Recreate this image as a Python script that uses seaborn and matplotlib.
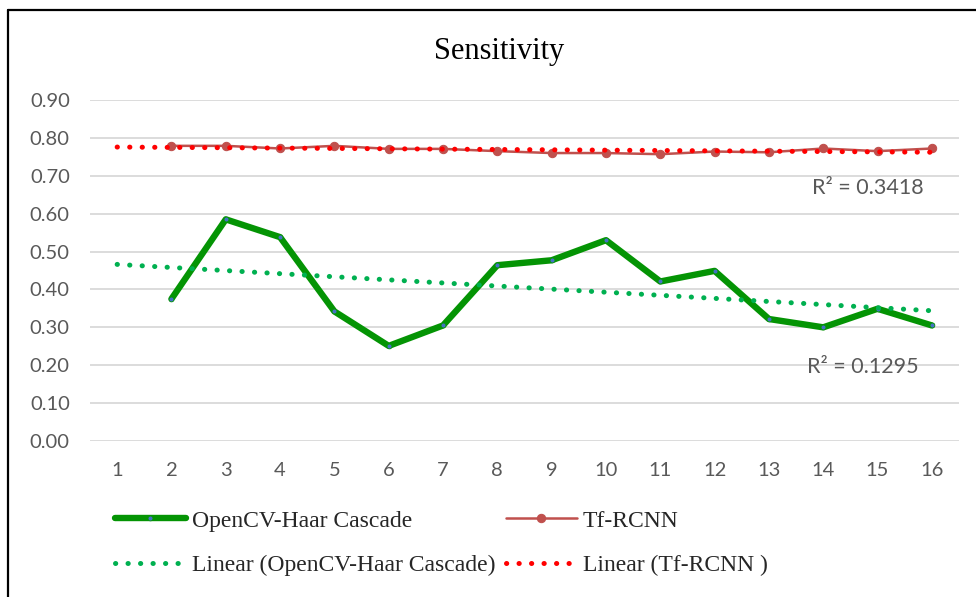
import numpy as np
import pandas as pd
import matplotlib
matplotlib.use("Agg")
import matplotlib.pyplot as plt
import seaborn as sns
from matplotlib.lines import Line2D

# ---- data ----
x_labels = [str(i) for i in range(1, 17)]
x_vals = list(range(1, 17))
opencv = [np.nan, 0.375, 0.585, 0.538, 0.342, 0.251, 0.305, 0.464, 0.477,
          0.530, 0.421, 0.449, 0.322, 0.300, 0.349, 0.305]
tfrcnn = [np.nan, 0.779, 0.779, 0.772, 0.779, 0.771, 0.771, 0.765, 0.760,
          0.760, 0.757, 0.764, 0.762, 0.772, 0.765, 0.772]
series_names = ["OpenCV-Haar Cascade", "Tf-RCNN"]
trend_names = ["Linear (OpenCV-Haar Cascade)", "Linear (Tf-RCNN )"]
r2_labels = ["R² = 0.1295", "R² = 0.3418"]
y_ticks = [0.0, 0.1, 0.2, 0.3, 0.4, 0.5, 0.6, 0.7, 0.8, 0.9]

sns.set_theme(style="white")
plt.rcParams['font.family'] = ['Lato', 'DejaVu Sans']

W, H = 976, 597
fig = plt.figure(figsize=(W / 100, H / 100), dpi=100)
ax = fig.add_axes([90 / W, 1 - 441 / H, (959 - 90) / W, (441 - 100) / H])

df = pd.DataFrame({"x": x_vals, "opencv": opencv, "tfrcnn": tfrcnn})

green = "#049404"
red_line = "#C0504D"
green_trend = "#00B050"
red_trend = "#FF0000"

# main series
sns.lineplot(data=df, x="x", y="opencv", ax=ax, color=green, linewidth=4.6,
             marker="o", markersize=3.5, markerfacecolor="#4472C4",
             markeredgecolor=green, markeredgewidth=0.5, label=series_names[0],
             solid_capstyle="round", solid_joinstyle="round")
sns.lineplot(data=df, x="x", y="tfrcnn", ax=ax, color=red_line, linewidth=1.8,
             marker="o", markersize=6, markerfacecolor=red_line,
             markeredgecolor=red_line, label=series_names[1])

# linear trendlines (fit on available points, drawn across 1..16)
def trend(vals):
    xs = np.array(x_vals, dtype=float)
    ys = np.array(vals, dtype=float)
    m = ~np.isnan(ys)
    k, b = np.polyfit(xs[m], ys[m], 1)
    return k * xs + b

tdf = pd.DataFrame({"x": x_vals, "g": trend(opencv), "r": trend(tfrcnn)})
dot = (0, (0.05, 2.45))
sns.lineplot(data=tdf, x="x", y="g", ax=ax, color=green_trend, linewidth=3.6,
             label=trend_names[0])
sns.lineplot(data=tdf, x="x", y="r", ax=ax, color=red_trend, linewidth=3.6,
             label=trend_names[1])
for ln in ax.lines[-2:]:
    ln.set_linestyle(dot)
    ln.set_dash_capstyle("round")

ax.set_xlim(0.5, 16.5)
ax.set_ylim(0, 0.9)
ax.set_xticks(x_vals)
ax.set_xticklabels(x_labels)
ax.set_yticks(y_ticks)
ax.set_yticklabels([f"{v:.2f}" for v in y_ticks])
ax.set_xlabel("")
ax.set_ylabel("")
ax.grid(axis="y", color="#D9D9D9", linewidth=1.3)
ax.grid(axis="x", visible=False)
ax.set_axisbelow(True)
for s in ax.spines.values():
    s.set_visible(False)
ax.tick_params(axis="both", length=0, labelsize=14.5, colors="#595959")
ax.tick_params(axis="y", pad=14.5)
ax.tick_params(axis="x", pad=15)

# R² labels
ax.text(15.75, 0.196, r2_labels[0], ha="right", va="center", fontsize=15.5,
        color="#595959")
ax.text(15.85, 0.668, r2_labels[1], ha="right", va="center", fontsize=15.5,
        color="#595959")

# title
fig.text(499 / W, 1 - 51 / H, "Sensitivity", ha="center", va="center",
         fontsize=22, family=["Liberation Serif", "DejaVu Serif"], color="black")

# legend
ax.get_legend().remove()
handles = ax.lines
leg = fig.legend(handles=[handles[0], handles[2], handles[1], handles[3]],
                 labels=[series_names[0], trend_names[0], series_names[1], trend_names[1]],
                 ncol=2, loc="upper left", bbox_to_anchor=(115 / W, 1 - 510 / H),
                 frameon=False, handlelength=3.0, handletextpad=0.25,
                 columnspacing=0.45, labelspacing=0.99, borderaxespad=0, borderpad=0,
                 prop={"family": ["Liberation Serif", "DejaVu Serif"], "size": 17})

# border (top and left edges visible)
fig.add_artist(Line2D([8 / W, 8 / W], [0, 1 - 10 / H], transform=fig.transFigure,
                      color="black", linewidth=1.6))
fig.add_artist(Line2D([8 / W, 1], [1 - 10 / H, 1 - 10 / H], transform=fig.transFigure,
                      color="black", linewidth=1.6))

fig.savefig("out.png", dpi=100, facecolor="white")
